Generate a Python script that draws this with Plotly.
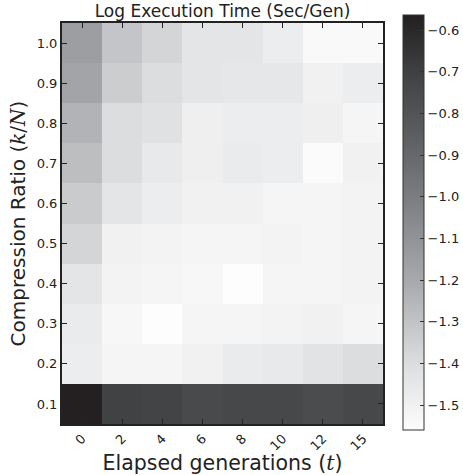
import plotly.graph_objects as go

generations = ["0", "2", "4", "6", "8", "10", "12", "15"]
ratios = ["0.1", "0.2", "0.3", "0.4", "0.5", "0.6", "0.7", "0.8", "0.9", "1.0"]

# rows ordered bottom (0.1) to top (1.0)
row_01 = [-0.57, -0.71, -0.72, -0.75, -0.74, -0.74, -0.76, -0.74]
row_02 = [-1.48, -1.52, -1.52, -1.50, -1.47, -1.46, -1.43, -1.40]
row_03 = [-1.47, -1.53, -1.56, -1.52, -1.52, -1.51, -1.50, -1.52]
row_04 = [-1.44, -1.51, -1.52, -1.53, -1.56, -1.52, -1.52, -1.51]
row_05 = [-1.37, -1.50, -1.51, -1.52, -1.52, -1.51, -1.52, -1.51]
row_06 = [-1.33, -1.44, -1.48, -1.50, -1.50, -1.52, -1.52, -1.51]
row_07 = [-1.28, -1.40, -1.46, -1.49, -1.47, -1.48, -1.55, -1.50]
row_08 = [-1.24, -1.40, -1.42, -1.49, -1.48, -1.48, -1.49, -1.52]
row_09 = [-1.18, -1.34, -1.40, -1.44, -1.45, -1.45, -1.50, -1.48]
row_10 = [-1.15, -1.31, -1.37, -1.44, -1.44, -1.48, -1.54, -1.54]

z = [row_01, row_02, row_03, row_04, row_05, row_06, row_07, row_08, row_09, row_10]

cbar_ticks = [-0.6, -0.7, -0.8, -0.9, -1.0, -1.1, -1.2, -1.3, -1.4, -1.5]
zmin, zmax = -1.56, -0.564

colorscale = [
    [0.0, "#fdfdfd"],
    [0.16, "#dcdddf"],
    [0.36, "#a8a9ac"],
    [0.56, "#7b7d80"],
    [0.76, "#525456"],
    [0.86, "#3f4143"],
    [1.0, "#231f20"],
]

FONT = "DejaVu Sans"
TXT = "#222222"

fig = go.Figure(
    go.Heatmap(
        x=generations,
        y=ratios,
        z=z,
        zmin=zmin,
        zmax=zmax,
        colorscale=colorscale,
        showscale=True,
        colorbar=dict(
            x=(403 - 62) / 321,
            xanchor="left",
            xref="paper",
            xpad=0,
            ypad=0,
            y=(424 - 222.5) / 401,
            yanchor="middle",
            len=415,
            lenmode="pixels",
            thickness=21,
            thicknessmode="pixels",
            outlinewidth=1,
            outlinecolor="#333333",
            tickvals=cbar_ticks,
            tickformat=".1f",
            ticks="inside",
            ticklen=4,
            tickwidth=1,
            tickcolor="#333333",
            tickfont=dict(family=FONT, size=13, color=TXT),
        ),
    )
)

fig.update_layout(
    width=463,
    height=475,
    margin=dict(l=62, r=80, t=23, b=51, autoexpand=False),
    paper_bgcolor="white",
    plot_bgcolor="white",
    font=dict(family=FONT, color=TXT),
    title=dict(
        text="Log Execution Time (Sec/Gen)",
        x=222.5 / 463,
        xanchor="center",
        y=(475 - 11) / 475,
        yanchor="middle",
        yref="container",
        font=dict(family=FONT, size=17, color=TXT),
    ),
)

fig.update_xaxes(
    type="category",
    showline=True,
    linecolor="#222222",
    linewidth=2,
    mirror="ticks",
    ticks="inside",
    ticklen=5,
    tickwidth=1,
    tickcolor="#222222",
    tickangle=-45,
    tickfont=dict(family=FONT, size=13, color=TXT),
    title=dict(
        text="Elapsed generations (<span style='font-family:DejaVu Serif'><i>t</i></span>)",
        font=dict(family=FONT, size=20.5, color=TXT),
        standoff=2,
    ),
    showgrid=False,
    zeroline=False,
)

fig.update_yaxes(
    type="category",
    showline=True,
    linecolor="#222222",
    linewidth=2,
    mirror="ticks",
    ticks="inside",
    ticklen=5,
    tickwidth=1,
    tickcolor="#222222",
    tickfont=dict(family=FONT, size=13, color=TXT),
    title=dict(
        text="Compression Ratio (<span style='font-family:DejaVu Serif'><i>k</i>/<i>N</i></span>)",
        font=dict(family=FONT, size=20, color=TXT),
        standoff=6,
    ),
    showgrid=False,
    zeroline=False,
)

fig.write_html("out.html")
